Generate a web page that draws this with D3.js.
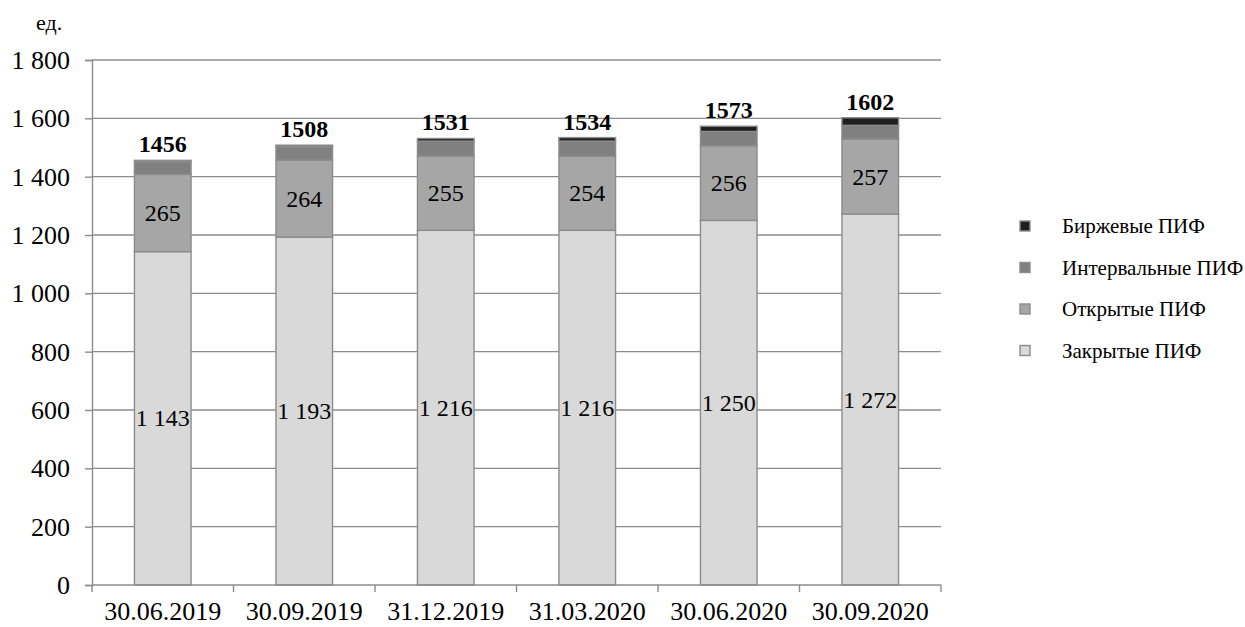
<!DOCTYPE html>
<html>
<head>
<meta charset="utf-8">
<script src="https://cdn.jsdelivr.net/npm/d3@7"></script>
<style>
  html, body { margin: 0; padding: 0; background: #fff; }
  svg text { font-family: "Liberation Serif", "Times New Roman", Times, serif; }
</style>
</head>
<body>
<svg id="chart" width="1245" height="627"></svg>
<script>
// Number of mutual funds by type, units
const dates = ["30.06.2019", "30.09.2019", "31.12.2019", "31.03.2020", "30.06.2020", "30.09.2020"];
const closedFunds   = [1143, 1193, 1216, 1216, 1250, 1272];
const openFunds     = [265, 264, 255, 254, 256, 257];
const intervalFunds = [44, 46, 51, 52, 49, 47];
const exchangeFunds = [4, 5, 9, 12, 18, 26];
const totals        = [1456, 1508, 1531, 1534, 1573, 1602];
const yTicks = [0, 200, 400, 600, 800, 1000, 1200, 1400, 1600, 1800];

const seriesNames  = ["Закрытые ПИФ", "Открытые ПИФ", "Интервальные ПИФ", "Биржевые ПИФ"];
const seriesColors = ["#d9d9d9", "#a6a6a6", "#808080", "#1f1f1f"];

const gridColor = "#8c8c8c";
const serif = "Liberation Serif";
const margin = { left: 92, right: 941, top: 60, bottom: 585 };

const ruLocale = d3.formatLocale({ decimal: ",", thousands: "\u00a0", grouping: [3], currency: ["", ""] });
const fmt = ruLocale.format(",d");

const svg = d3.select("#chart");

const x = d3.scaleBand().domain(dates).range([margin.left, margin.right]).paddingInner(0.6).paddingOuter(0.3);
const y = d3.scaleLinear().domain([0, 1800]).range([margin.bottom, margin.top]);

// Horizontal gridlines
svg.append("g").selectAll("line").data(yTicks.filter(d => d > 0)).join("line")
  .attr("x1", margin.left).attr("x2", margin.right)
  .attr("y1", d => y(d)).attr("y2", d => y(d))
  .attr("stroke", gridColor).attr("stroke-width", 1.4);

// Y axis
const yAxis = svg.append("g").attr("transform", `translate(${margin.left},0)`)
  .call(d3.axisLeft(y).tickValues(yTicks).tickSize(7).tickPadding(15).tickFormat(fmt))
  .attr("font-family", serif);
yAxis.select(".domain").attr("stroke", gridColor).attr("stroke-width", 1.4);
yAxis.selectAll(".tick line").attr("stroke", gridColor).attr("stroke-width", 1.4);
yAxis.selectAll(".tick text").attr("font-size", 26).attr("fill", "#000").attr("dy", "0.33em");

// Stacked bars
const rows = dates.map((d, i) => ({ date: d, s0: closedFunds[i], s1: openFunds[i], s2: intervalFunds[i], s3: exchangeFunds[i] }));
const stack = d3.stack().keys(["s0", "s1", "s2", "s3"])(rows);

const layers = svg.append("g").selectAll("g").data(stack).join("g")
  .attr("fill", (d, i) => seriesColors[i]);
layers.selectAll("rect").data(d => d).join("rect")
  .attr("x", d => x(d.data.date))
  .attr("width", x.bandwidth())
  .attr("y", d => y(d[1]))
  .attr("height", d => y(d[0]) - y(d[1]))
  .attr("stroke", gridColor).attr("stroke-width", 1.4);

// X axis with boundary ticks
const xAxisG = svg.append("g").attr("font-family", serif);
xAxisG.append("line").attr("x1", margin.left).attr("x2", margin.right)
  .attr("y1", margin.bottom).attr("y2", margin.bottom)
  .attr("stroke", gridColor).attr("stroke-width", 1.4);
const step = x.step();
const bounds = d3.range(dates.length + 1).map(i => margin.left + i * step);
xAxisG.selectAll("line.tk").data(bounds).join("line").attr("class", "tk")
  .attr("x1", d => d).attr("x2", d => d)
  .attr("y1", margin.bottom).attr("y2", margin.bottom + 7)
  .attr("stroke", gridColor).attr("stroke-width", 1.4);
xAxisG.selectAll("text").data(dates).join("text")
  .attr("x", d => x(d) + x.bandwidth() / 2)
  .attr("y", 620)
  .attr("text-anchor", "middle").attr("font-size", 26).attr("fill", "#000")
  .text(d => d);

// Value labels for closed and open funds
const labels = svg.append("g").attr("font-family", serif).attr("font-size", 24).attr("fill", "#000").attr("text-anchor", "middle");
[0, 1].forEach(k => {
  labels.selectAll(null).data(stack[k]).join("text")
    .attr("x", d => x(d.data.date) + x.bandwidth() / 2)
    .attr("y", d => (y(d[0]) + y(d[1])) / 2 + 8)
    .text(d => fmt(d[1] - d[0]));
});

// Totals above each bar
svg.append("g").attr("font-family", serif).selectAll("text").data(dates).join("text")
  .attr("x", d => x(d) + x.bandwidth() / 2)
  .attr("y", (d, i) => y(totals[i]) - 8)
  .attr("text-anchor", "middle").attr("font-size", 24).attr("font-weight", "bold").attr("fill", "#000")
  .text((d, i) => totals[i]);

// Unit label
svg.append("text").attr("font-family", serif).attr("x", 36).attr("y", 30).attr("font-size", 22).attr("fill", "#000").text("ед.");

// Legend (top to bottom: exchange, interval, open, closed)
const legendOrder = [3, 2, 1, 0];
const legend = svg.append("g").attr("font-family", serif).selectAll("g").data(legendOrder).join("g")
  .attr("transform", (d, i) => `translate(1020, ${233 + i * 41.5})`);
legend.append("rect").attr("x", 0).attr("y", -12).attr("width", 10).attr("height", 10)
  .attr("fill", d => seriesColors[d]).attr("stroke", gridColor).attr("stroke-width", 1.4);
legend.append("text").attr("x", 42).attr("y", 0).attr("font-size", 21).attr("fill", "#000")
  .text(d => seriesNames[d]);
</script>
</body>
</html>
